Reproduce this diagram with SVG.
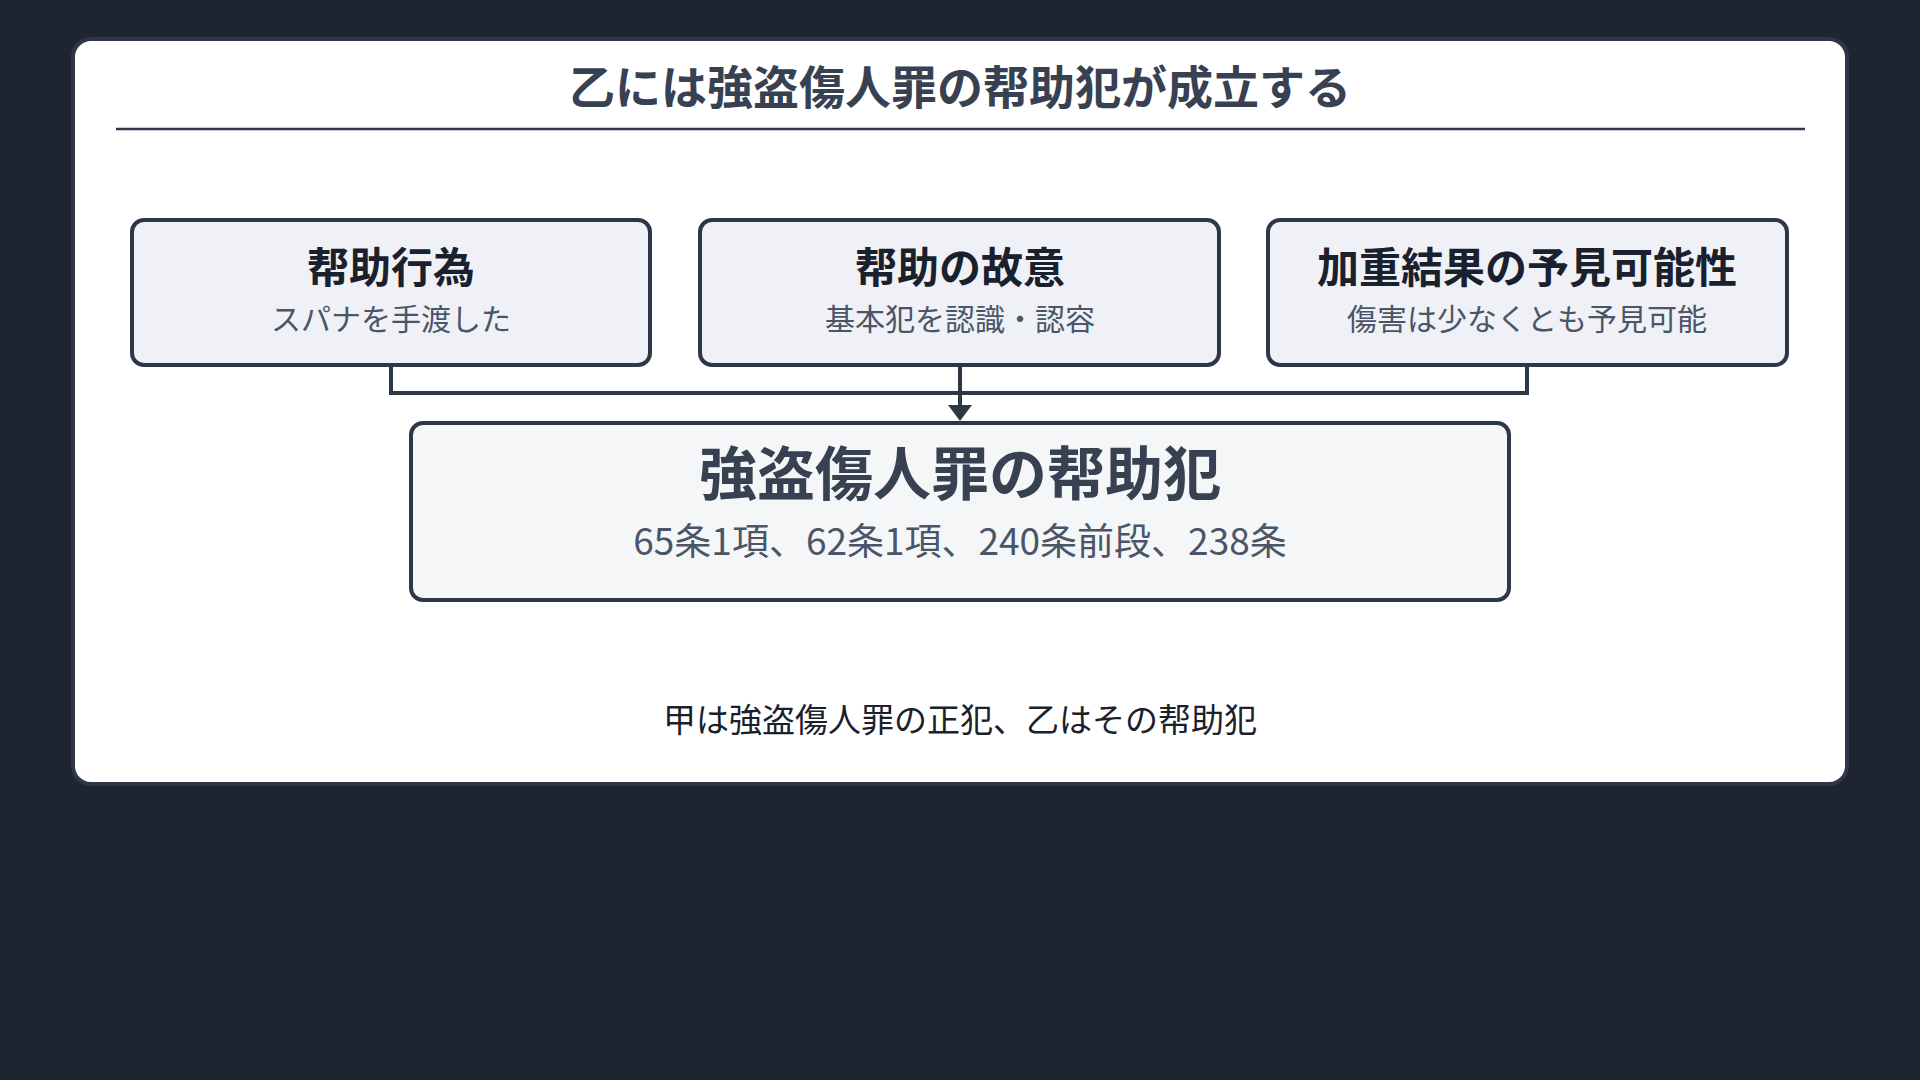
<svg xmlns="http://www.w3.org/2000/svg" width="1920" height="1080" viewBox="0 0 1920 1080">
<style>
text{font-family:"Noto Sans CJK JP","Noto Sans",sans-serif;text-anchor:middle}
.box{fill:#eff1f6;stroke:#2d3748;stroke-width:4}
.bt{font-size:42px;font-weight:bold;fill:#1a202c}
.bs{font-size:30px;fill:#4a5568}
.con{fill:none;stroke:#2d3748;stroke-width:4}
</style>
<defs><marker id="ah" markerWidth="10" markerHeight="10" refX="5" refY="5" orient="auto" markerUnits="userSpaceOnUse" viewBox="0 0 10 10"><path d="M0,0 L10,5 L0,10 Z" fill="#2d3748" transform="scale(1)"/></marker></defs>
<rect width="1920" height="1080" fill="#1e2430"/>
<rect x="73" y="39" width="1774" height="745" rx="18" fill="#fff" stroke="#2d3748" stroke-width="4"/>
<text x="960" y="104" font-size="46" font-weight="bold" fill="#374151">乙には強盗傷人罪の帮助犯が成立する</text>
<line x1="116" y1="129" x2="1805" y2="129" stroke="#2d3748" stroke-width="2.5"/>
<g id="connectors">
<path class="con" d="M391,365 V393 H1527 V365 M960,365 V408"/>
<path d="M948,405 L972,405 L960,421 Z" fill="#2d3748"/>
</g>
<g id="n1"><rect class="box" x="132" y="220" width="518" height="145" rx="12"/><text class="bt" x="391" y="283">帮助行為</text><text class="bs" x="391" y="330">スパナを手渡した</text></g>
<g id="n2"><rect class="box" x="700" y="220" width="519" height="145" rx="12"/><text class="bt" x="960" y="283">帮助の故意</text><text class="bs" x="960" y="330">基本犯を認識・認容</text></g>
<g id="n3"><rect class="box" x="1268" y="220" width="519" height="145" rx="12"/><text class="bt" x="1527" y="283">加重結果の予見可能性</text><text class="bs" x="1527" y="330">傷害は少なくとも予見可能</text></g>
<g id="main"><rect x="411" y="423" width="1098" height="177" rx="12" fill="#f5f6f8" stroke="#2d3748" stroke-width="4"/><text x="960" y="495" font-size="58" font-weight="bold" fill="#374151">強盗傷人罪の帮助犯</text><text x="960" y="555" font-size="37" fill="#4a5568">65条1項、62条1項、240条前段、238条</text></g>
<text x="960" y="732" font-size="33" fill="#1a202c">甲は強盗傷人罪の正犯、乙はその帮助犯</text>
</svg>
